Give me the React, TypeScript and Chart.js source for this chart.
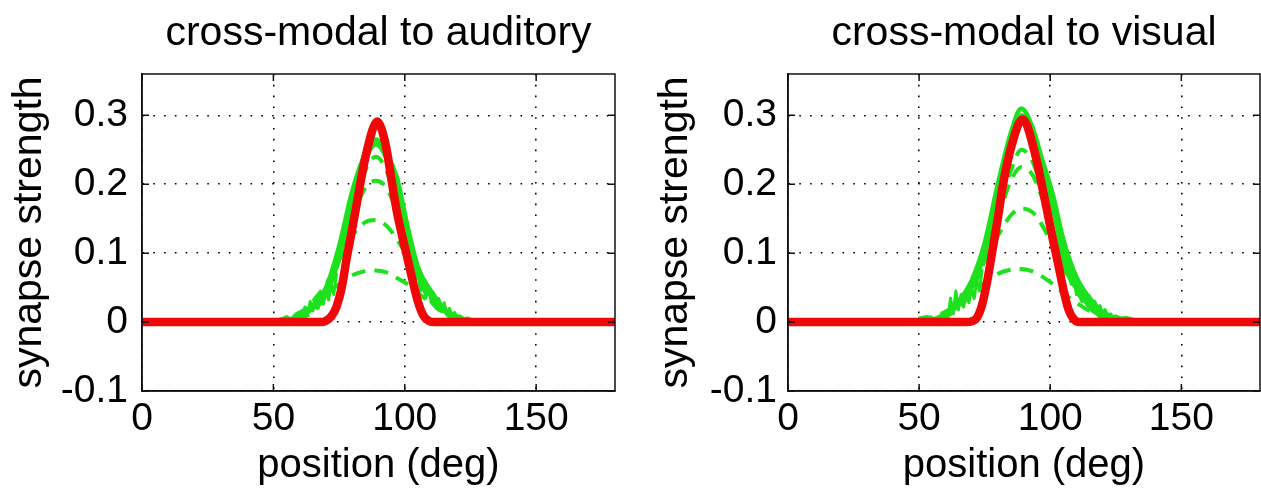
import React, { useEffect, useRef } from "react";
import { Chart, registerables } from "chart.js";

Chart.register(...registerables);

// ---------- data ----------
const X_MIN = 0;
const X_MAX = 180;
const Y_MIN = -0.1;
const Y_MAX = 0.36;
const X_TICKS = [0, 50, 100, 150];
const X_TICK_LABELS = ["0", "50", "100", "150"];
const Y_TICKS = [-0.1, 0, 0.1, 0.2, 0.3];
const Y_TICK_LABELS = ["-0.1", "0", "0.1", "0.2", "0.3"];

const TITLE_AUDITORY = "cross-modal to auditory";
const TITLE_VISUAL = "cross-modal to visual";
const X_LABEL = "position (deg)";
const Y_LABEL = "synapse strength";

// final (red) synapse profiles
const redX = [0, 68, 70, 72, 74, 76, 78, 80, 82, 84, 86, 88, 89.5, 91, 93, 95, 97, 99, 101, 103, 105, 107, 109, 111, 180];
const redAuditory = [0, 0, 0.002, 0.008, 0.022, 0.05, 0.095, 0.135, 0.178, 0.22, 0.255, 0.282, 0.291, 0.282, 0.252, 0.205, 0.16, 0.125, 0.093, 0.06, 0.03, 0.01, 0.002, 0, 0];
const redVisual = [0, 0, 0.001, 0.006, 0.025, 0.06, 0.105, 0.15, 0.2, 0.237, 0.266, 0.288, 0.294, 0.287, 0.262, 0.232, 0.195, 0.158, 0.12, 0.085, 0.048, 0.018, 0.004, 0, 0];

// intermediate (green) profiles
const greenX = [50, 55, 60, 65, 70, 75, 80, 85, 89, 93, 97, 101, 105, 110, 115, 120, 125, 130];
const greenAuditory1 = [0, 0.002, 0.01, 0.025, 0.05, 0.11, 0.19, 0.245, 0.265, 0.245, 0.21, 0.14, 0.08, 0.045, 0.02, 0.008, 0.002, 0];
const greenAuditory6 = [0, 0.002, 0.008, 0.02, 0.042, 0.092, 0.172, 0.235, 0.258, 0.238, 0.192, 0.125, 0.07, 0.038, 0.016, 0.006, 0.001, 0];
const greenAuditory2 = [0, 0, 0.005, 0.015, 0.04, 0.09, 0.16, 0.22, 0.24, 0.22, 0.17, 0.11, 0.065, 0.03, 0.012, 0.004, 0, 0];
const greenAuditory3 = [0, 0.002, 0.008, 0.02, 0.045, 0.09, 0.15, 0.195, 0.205, 0.195, 0.16, 0.115, 0.07, 0.035, 0.015, 0.005, 0, 0];
const greenAuditory4 = [0, 0.005, 0.012, 0.03, 0.055, 0.09, 0.125, 0.145, 0.148, 0.14, 0.12, 0.095, 0.065, 0.04, 0.02, 0.008, 0.002, 0];
const greenAuditory5 = [0.002, 0.006, 0.014, 0.025, 0.04, 0.055, 0.068, 0.074, 0.075, 0.072, 0.064, 0.055, 0.042, 0.028, 0.016, 0.007, 0.002, 0];

const greenVisual1 = [0, 0.003, 0.012, 0.03, 0.06, 0.115, 0.2, 0.275, 0.31, 0.285, 0.235, 0.185, 0.12, 0.065, 0.035, 0.015, 0.006, 0.002];
const greenVisual6 = [0, 0.002, 0.01, 0.025, 0.05, 0.1, 0.18, 0.26, 0.3, 0.275, 0.22, 0.165, 0.1, 0.055, 0.028, 0.012, 0.004, 0];
const greenVisual2 = [0, 0.002, 0.008, 0.02, 0.045, 0.09, 0.155, 0.22, 0.25, 0.235, 0.19, 0.135, 0.085, 0.045, 0.02, 0.008, 0.002, 0];
const greenVisual3 = [0, 0.003, 0.01, 0.025, 0.05, 0.095, 0.15, 0.205, 0.225, 0.215, 0.18, 0.135, 0.09, 0.05, 0.022, 0.008, 0.002, 0];
const greenVisual4 = [0.001, 0.005, 0.014, 0.03, 0.055, 0.09, 0.125, 0.155, 0.165, 0.16, 0.14, 0.11, 0.08, 0.048, 0.024, 0.01, 0.003, 0];
const greenVisual5 = [0.002, 0.007, 0.015, 0.027, 0.042, 0.057, 0.07, 0.076, 0.077, 0.074, 0.066, 0.055, 0.042, 0.028, 0.016, 0.007, 0.002, 0];

// jagged green tails near the base
const noiseAudLeftX = [53, 55, 57, 58, 59, 60, 61, 62, 63, 64, 65, 66, 67, 68, 69, 70, 71, 72, 73, 74];
const noiseAudLeftY = [0.004, 0.008, 0.004, 0.01, 0.005, 0.014, 0.006, 0.022, 0.01, 0.03, 0.016, 0.036, 0.02, 0.04, 0.026, 0.045, 0.032, 0.055, 0.04, 0.07];
const noiseAudRightX = [103, 104, 105, 106, 107, 108, 109, 110, 111, 112, 113, 114, 115, 116, 117, 118, 119, 120, 121, 122, 124, 126];
const noiseAudRightY = [0.085, 0.06, 0.07, 0.045, 0.06, 0.035, 0.05, 0.03, 0.042, 0.02, 0.034, 0.015, 0.028, 0.01, 0.02, 0.008, 0.014, 0.006, 0.009, 0.005, 0.006, 0.002];
const noiseVisLeftX = [50, 53, 56, 58, 60, 61, 62, 63, 64, 65, 66, 67, 68, 69, 70, 71, 72, 73, 74];
const noiseVisLeftY = [0.006, 0.008, 0.005, 0.009, 0.012, 0.006, 0.035, 0.012, 0.045, 0.018, 0.04, 0.022, 0.046, 0.028, 0.05, 0.034, 0.06, 0.045, 0.075];
const noiseVisRightX = [105, 106, 107, 108, 109, 110, 111, 112, 113, 114, 115, 116, 117, 118, 119, 120, 121, 122, 123, 124, 125, 127, 129, 131, 133];
const noiseVisRightY = [0.09, 0.07, 0.08, 0.055, 0.065, 0.04, 0.055, 0.03, 0.045, 0.025, 0.038, 0.018, 0.03, 0.014, 0.024, 0.01, 0.018, 0.008, 0.012, 0.006, 0.009, 0.006, 0.007, 0.005, 0.002];

// ---------- styling ----------
const FONT = '"Liberation Sans", Arial, Helvetica, sans-serif';
const RED = "rgb(238, 8, 8)";
const GREEN = "rgb(30, 225, 30)";
const H = 495;

const pts = (xs: number[], ys: number[]) => xs.map((x, i) => ({ x, y: ys[i] }));

function ds(xs: number[], ys: number[], color: string, width: number, dash: number[], smooth: boolean) {
  return {
    data: pts(xs, ys),
    borderColor: color,
    backgroundColor: color,
    borderWidth: width,
    borderDash: dash,
    pointRadius: 0,
    fill: false,
    tension: 0,
    cubicInterpolationMode: smooth ? "monotone" : "default",
    borderCapStyle: dash.length ? "butt" : "round",
    borderJoinStyle: "round",
  };
}

const framePlugin = {
  id: "matlabFrame",
  afterDatasetsDraw(chart: any) {
    const { ctx, chartArea, scales } = chart;
    const { left, right, top, bottom } = chartArea;
    const x = scales.x;
    const y = scales.y;
    ctx.save();
    ctx.strokeStyle = "#111";
    ctx.lineWidth = 1.5;
    ctx.setLineDash([]);
    ctx.strokeRect(left, top, right - left, bottom - top);
    const L = 7;
    ctx.beginPath();
    for (const v of X_TICKS) {
      const px = x.getPixelForValue(v);
      ctx.moveTo(px, bottom);
      ctx.lineTo(px, bottom - L);
      ctx.moveTo(px, top);
      ctx.lineTo(px, top + L);
    }
    for (const v of Y_TICKS) {
      const py = y.getPixelForValue(v);
      ctx.moveTo(left, py);
      ctx.lineTo(left + L, py);
      ctx.moveTo(right, py);
      ctx.lineTo(right - L, py);
    }
    ctx.stroke();
    ctx.restore();
  },
};

type PanelCfg = {
  left: number;
  width: number;
  axisWidth: number;
  padRight: number;
  yTickPad: number;
  yTitlePad: number;
  title: string;
  red: number[];
  envelopes: number[][];
  dashed: number[][];
  noise: [number[], number[]][];
};

const PANELS: PanelCfg[] = [
  {
    left: 0,
    width: 640,
    axisWidth: 142,
    padRight: 25,
    yTickPad: 14,
    yTitlePad: 5,
    title: TITLE_AUDITORY,
    red: redAuditory,
    envelopes: [greenAuditory1, greenAuditory6],
    dashed: [greenAuditory2, greenAuditory3, greenAuditory4, greenAuditory5],
    noise: [
      [noiseAudLeftX, noiseAudLeftY],
      [noiseAudRightX, noiseAudRightY],
    ],
  },
  {
    left: 640,
    width: 621,
    axisWidth: 148,
    padRight: 1,
    yTickPad: 11,
    yTitlePad: 11,
    title: TITLE_VISUAL,
    red: redVisual,
    envelopes: [greenVisual1, greenVisual6],
    dashed: [greenVisual2, greenVisual3, greenVisual4, greenVisual5],
    noise: [
      [noiseVisLeftX, noiseVisLeftY],
      [noiseVisRightX, noiseVisRightY],
    ],
  },
];

function Panel({ cfg }: { cfg: PanelCfg }) {
  const ref = useRef<HTMLCanvasElement | null>(null);
  useEffect(() => {
    if (!ref.current) return;
    const datasets: any[] = [];
    datasets.push(ds(redX, cfg.red, RED, 8.5, [], true));
    for (const g of cfg.envelopes) datasets.push(ds(greenX, g, GREEN, 4.5, [], true));
    for (const g of cfg.dashed) datasets.push(ds(greenX, g, GREEN, 4, [14, 9], true));
    for (const [xs, ys] of cfg.noise) datasets.push(ds(xs, ys, GREEN, 3, [], false));
    const tickFont = { family: FONT, size: 39, weight: "normal" as const, lineHeight: 1.2 };
    const chart = new Chart(ref.current, {
      type: "line",
      data: { datasets },
      plugins: [framePlugin],
      options: {
        responsive: false,
        animation: false,
        devicePixelRatio: 1,
        layout: { padding: { left: 0, right: cfg.padRight, top: 0, bottom: 0 } },
        plugins: {
          legend: { display: false },
          tooltip: { enabled: false },
          title: {
            display: true,
            text: cfg.title,
            fullSize: false,
            color: "#000",
            font: { family: FONT, size: 41, weight: "normal", lineHeight: 1.2 },
            padding: { top: 9, bottom: 15.8 },
          },
        },
        scales: {
          x: {
            type: "linear",
            min: X_MIN,
            max: X_MAX,
            afterBuildTicks: (s: any) => {
              s.ticks = X_TICKS.map((v) => ({ value: v }));
            },
            afterFit: (s: any) => {
              s.height = 104;
            },
            grid: { color: "#000", lineWidth: 1.6, drawTicks: false },
            border: { display: true, color: "#111", width: 1.5, dash: [1.6, 9.2] },
            ticks: {
              color: "#000",
              font: tickFont,
              padding: 5,
              maxRotation: 0,
              autoSkip: false,
              callback: (_v: any, i: number) => X_TICK_LABELS[i],
            },
            title: {
              display: true,
              text: X_LABEL,
              color: "#000",
              font: { family: FONT, size: 40, weight: "normal", lineHeight: 1.2 },
              padding: { top: 0, bottom: 5 },
            },
          },
          y: {
            type: "linear",
            min: Y_MIN,
            max: Y_MAX,
            afterBuildTicks: (s: any) => {
              s.ticks = Y_TICKS.map((v) => ({ value: v }));
            },
            afterFit: (s: any) => {
              s.width = cfg.axisWidth;
            },
            grid: { color: "#000", lineWidth: 1.6, drawTicks: false },
            border: { display: true, color: "#111", width: 1.5, dash: [1.6, 9.2] },
            ticks: {
              color: "#000",
              font: tickFont,
              padding: cfg.yTickPad,
              autoSkip: false,
              callback: (_v: any, i: number) => Y_TICK_LABELS[i],
            },
            title: {
              display: true,
              text: Y_LABEL,
              color: "#000",
              font: { family: FONT, size: 41, weight: "normal", lineHeight: 1.2 },
              padding: { top: cfg.yTitlePad, bottom: 0 },
            },
          },
        },
      } as any,
    });
    return () => chart.destroy();
  }, [cfg]);
  return (
    <canvas
      ref={ref}
      width={cfg.width}
      height={H}
      style={{ position: "absolute", left: cfg.left, top: 0, width: cfg.width, height: H, display: "block" }}
    />
  );
}

export default function App() {
  return (
    <div
      style={{
        position: "fixed",
        left: 0,
        top: 0,
        width: 1261,
        height: H,
        background: "#fff",
        overflow: "hidden",
      }}
    >
      {PANELS.map((p, i) => (
        <Panel key={i} cfg={p} />
      ))}
    </div>
  );
}
